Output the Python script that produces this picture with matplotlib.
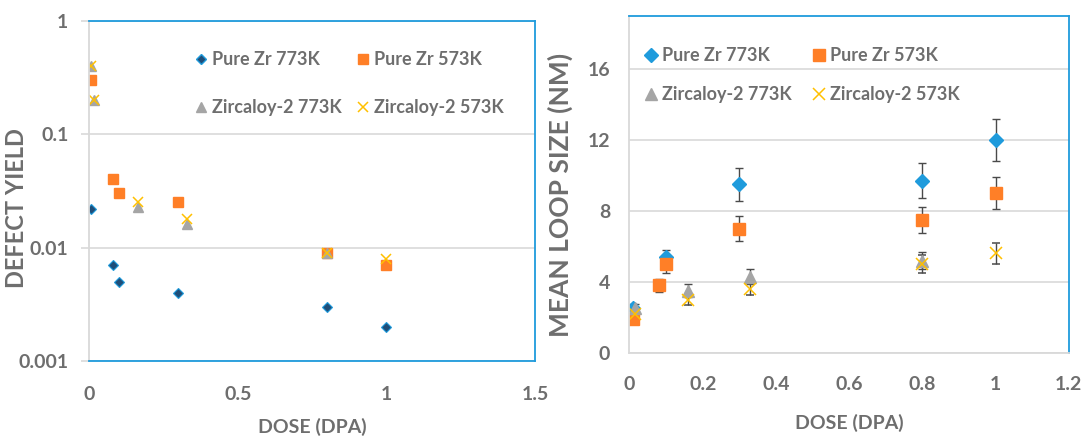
import matplotlib
matplotlib.use("Agg")
import matplotlib.pyplot as plt
from matplotlib.lines import Line2D

plt.rcParams['font.family'] = ['Lato', 'DejaVu Sans']
plt.rcParams['font.weight'] = 'bold'

# left chart: defect yield vs dose
dose_pz773_l = [0.007, 0.08, 0.1, 0.3, 0.8, 1.0]
yield_pz773 = [0.022, 0.007, 0.005, 0.004, 0.003, 0.002]
dose_pz573_l = [0.007, 0.08, 0.1, 0.3, 0.8, 1.0]
yield_pz573 = [0.3, 0.04, 0.03, 0.025, 0.009, 0.007]
dose_z773_l = [0.007, 0.015, 0.163, 0.33, 0.8]
yield_z773 = [0.4, 0.2, 0.023, 0.016, 0.009]
dose_z573_l = [0.007, 0.015, 0.163, 0.33, 0.8, 1.0]
yield_z573 = [0.4, 0.2, 0.025, 0.018, 0.009, 0.008]

# right chart: mean loop size vs dose
dose_pz773_r = [0.01, 0.1, 0.3, 0.8, 1.0]
size_pz773 = [2.55, 5.4, 9.5, 9.7, 12.0]
err_pz773 = [0.2, 0.4, 0.95, 0.98, 1.2]
dose_pz573_r = [0.01, 0.08, 0.1, 0.3, 0.8, 1.0]
size_pz573 = [1.9, 3.8, 5.0, 7.0, 7.5, 9.0]
err_pz573 = [0.2, 0.38, 0.5, 0.7, 0.74, 0.9]
dose_z773_r = [0.015, 0.16, 0.33, 0.8]
size_z773 = [2.5, 3.5, 4.3, 5.2]
err_z773 = [0.25, 0.35, 0.45, 0.5]
dose_z573_r = [0.015, 0.16, 0.33, 0.8, 1.0]
size_z573 = [2.2, 3.0, 3.6, 5.0, 5.6]
err_z573 = [0.25, 0.3, 0.35, 0.5, 0.57]

labels = ['Pure Zr 773K', 'Pure Zr 573K', 'Zircaloy-2 773K', 'Zircaloy-2 573K']
blue = '#1f9bdc'
navy = '#1f4e79'
orange = '#ff7f27'
grey = '#a5a5a5'
yellow = '#ffc000'
txt = '#6e6e6e'
grid = '#d9d9d9'
ebar = '#4a4a4a'
fs = 14
leg_font = {'weight': 'bold', 'size': 13}

fig = plt.figure(figsize=(10.9, 4.42), dpi=100)
ax1 = fig.add_axes([0.0819, 0.1833, 0.4089, 0.7697])
ax2 = fig.add_axes([0.5775, 0.2020, 0.4031, 0.7618])

# ---- left
ax1.plot(dose_pz773_l, yield_pz773, 'D', ms=5, color=navy, mec=blue, mew=0.8, ls='none')
ax1.plot(dose_pz573_l, yield_pz573, 's', ms=7, color=orange, ls='none')
ax1.plot(dose_z773_l, yield_z773, '^', ms=7, color=grey, ls='none')
ax1.plot(dose_z573_l, yield_z573, 'x', ms=7, color=yellow, mew=1.1, ls='none')
ax1.set_yscale('log')
ax1.set_ylim(0.001, 1)
ax1.set_xlim(0, 1.5)
ax1.set_xticks([0, 0.5, 1, 1.5])
ax1.set_xticklabels(['0', '0.5', '1', '1.5'])
ax1.set_yticks([0.001, 0.01, 0.1, 1])
ax1.set_yticklabels(['0.001', '0.01', '0.1', '1'])
ax1.minorticks_off()
ax1.grid(axis='y', color=grid, lw=1.2)
ax1.set_axisbelow(True)
for s in ['top', 'right', 'bottom']:
    ax1.spines[s].set_color(blue)
    ax1.spines[s].set_linewidth(1.3)
ax1.spines['left'].set_color(grid)
ax1.spines['left'].set_linewidth(1.3)
ax1.tick_params(axis='y', length=6, color=grid, width=1.2, pad=9, labelsize=fs, labelcolor=txt)
ax1.tick_params(axis='x', length=0, pad=18, labelsize=fs, labelcolor=txt)
ax1.set_xlabel('DOSE (DPA)', fontsize=fs, color=txt, fontweight='bold')
ax1.set_ylabel('DEFECT YIELD', fontsize=17, color=txt, fontweight='bold')
ax1.xaxis.set_label_coords(0.5, -0.166)
ax1.yaxis.set_label_coords(-0.137, 0.45)

h1 = [Line2D([], [], marker='D', ms=5, color=navy, mec=blue, ls='none'),
      Line2D([], [], marker='s', ms=7, color=orange, ls='none'),
      Line2D([], [], marker='^', ms=7, color=grey, ls='none'),
      Line2D([], [], marker='x', ms=7, color=yellow, mew=1.1, ls='none')]
ax1.legend([h1[0], h1[2], h1[1], h1[3]], [labels[0], labels[2], labels[1], labels[3]],
           ncol=2, frameon=False, loc='upper left', bbox_to_anchor=(0.215, 0.938),
           borderpad=0, prop=leg_font, labelcolor=txt, handlelength=0.8, handletextpad=0.2,
           columnspacing=0.78, labelspacing=1.73)

# ---- right
ax2.errorbar(dose_pz773_r, size_pz773, yerr=err_pz773, fmt='D', ms=7, color=blue,
             ecolor=ebar, elinewidth=1, capsize=3, capthick=1)
ax2.errorbar(dose_pz573_r, size_pz573, yerr=err_pz573, fmt='s', ms=8, color=orange,
             ecolor=ebar, elinewidth=1, capsize=3, capthick=1)
ax2.errorbar(dose_z773_r, size_z773, yerr=err_z773, fmt='^', ms=8, color=grey,
             ecolor=ebar, elinewidth=1, capsize=3, capthick=1)
ax2.errorbar(dose_z573_r, size_z573, yerr=err_z573, fmt='x', ms=8, color=yellow, mew=1.1,
             ecolor=ebar, elinewidth=1, capsize=3, capthick=1)
ax2.set_xlim(0, 1.2)
ax2.set_ylim(0, 19)
ax2.set_xticks([0, 0.2, 0.4, 0.6, 0.8, 1, 1.2])
ax2.set_xticklabels(['0', '0.2', '0.4', '0.6', '0.8', '1', '1.2'])
ax2.set_yticks([0, 4, 8, 12, 16])
ax2.grid(axis='y', color=grid, lw=1.2)
ax2.set_axisbelow(True)
for s in ['top', 'right']:
    ax2.spines[s].set_color(blue)
    ax2.spines[s].set_linewidth(1.3)
for s in ['left', 'bottom']:
    ax2.spines[s].set_color(grid)
    ax2.spines[s].set_linewidth(1.3)
ax2.tick_params(axis='y', length=0, pad=14, labelsize=fs, labelcolor=txt)
ax2.tick_params(axis='x', length=0, pad=17, labelsize=fs, labelcolor=txt)
ax2.set_xlabel('DOSE (DPA)', fontsize=fs, color=txt, fontweight='bold')
ax2.set_ylabel('MEAN LOOP SIZE (NM)', fontsize=19, color=txt, fontweight='bold')
ax2.xaxis.set_label_coords(0.5, -0.182)
ax2.yaxis.set_label_coords(-0.128, 0.47)

h2 = [Line2D([], [], marker='D', ms=7, color=blue, ls='none'),
      Line2D([], [], marker='s', ms=8, color=orange, ls='none'),
      Line2D([], [], marker='^', ms=8, color=grey, ls='none'),
      Line2D([], [], marker='x', ms=8, color=yellow, mew=1.1, ls='none')]
ax2.legend([h2[0], h2[2], h2[1], h2[3]], [labels[0], labels[2], labels[1], labels[3]],
           ncol=2, frameon=False, loc='upper left', bbox_to_anchor=(0.012, 0.935),
           borderpad=0, prop=leg_font, labelcolor=txt, handlelength=0.8, handletextpad=0.2,
           columnspacing=1.13, labelspacing=1.23)

fig.savefig('out.png', dpi=100)
